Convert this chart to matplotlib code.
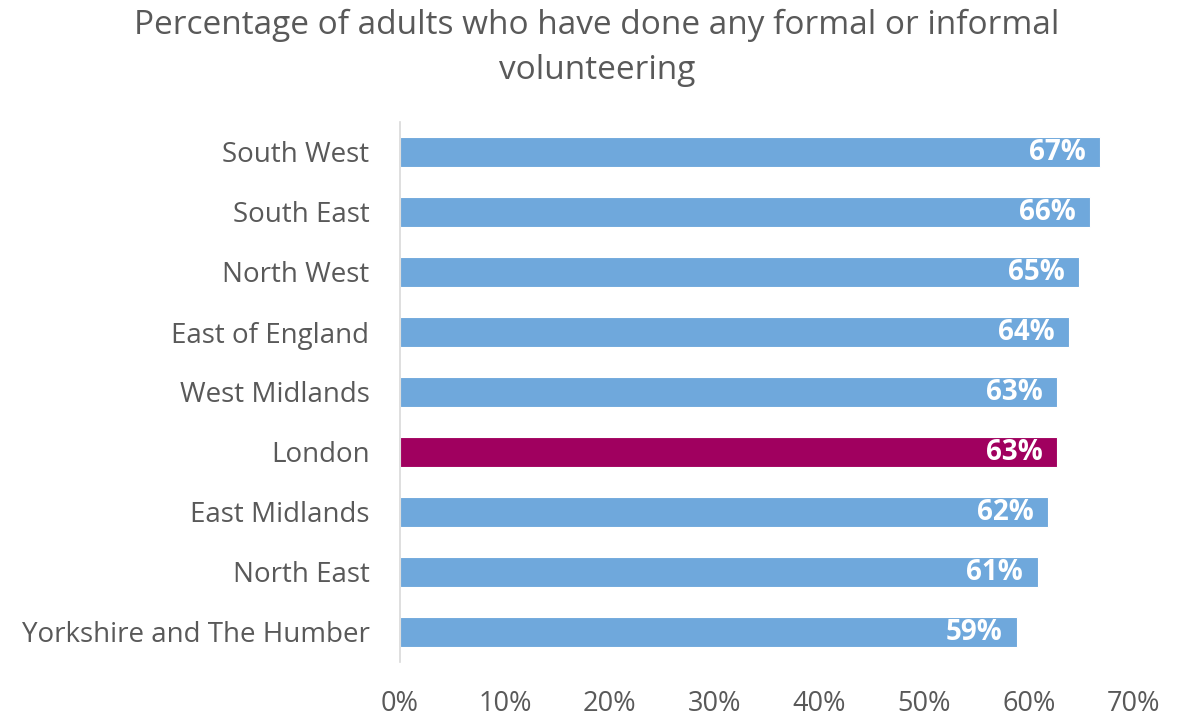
import matplotlib
matplotlib.use("Agg")
import matplotlib.pyplot as plt

# --- DATA ---
regions = ["South West", "South East", "North West", "East of England",
           "West Midlands", "London", "East Midlands", "North East",
           "Yorkshire and The Humber"]
values = [66.8, 65.8, 64.8, 63.8, 62.7, 62.7, 61.8, 60.8, 58.8]
labels = ["67%", "66%", "65%", "64%", "63%", "63%", "62%", "61%", "59%"]
highlight = "London"

# --- STYLE ---
BLUE = "#6FA8DC"
PLUM = "#A0005F"
GREY = "#595959"
plt.rcParams['font.family'] = ['Open Sans', 'DejaVu Sans']

fig = plt.figure(figsize=(11.85, 7.18), dpi=100)
ax = fig.add_axes([400 / 1185, 1 - 662 / 718, 734 / 1185, 540 / 718])

ypos = list(range(len(regions)))
colors = [PLUM if r == highlight else BLUE for r in regions]
ax.barh(ypos, values, height=0.5, color=colors, edgecolor="white", linewidth=0.8)

for y, v, lab in zip(ypos, values, labels):
    ax.text(v - 1.4, y, lab, ha="right", va="center", color="white",
            fontsize=20, fontweight="bold")

ax.set_ylim(len(regions) - 0.5, -0.5)
ax.set_xlim(0, 70)
ax.set_yticks(ypos)
ax.set_yticklabels(regions, fontsize=20, color=GREY)
ax.set_xticks(range(0, 71, 10))
ax.set_xticklabels([f"{t}%" for t in range(0, 71, 10)], fontsize=19.5, color=GREY)
ax.tick_params(axis="both", length=0)
ax.tick_params(axis="y", pad=22)
ax.tick_params(axis="x", pad=20)

for side in ["top", "right", "bottom"]:
    ax.spines[side].set_visible(False)
ax.spines["left"].set_color("#D9D9D9")
ax.spines["left"].set_linewidth(1.2)

fig.text(597 / 1185, 1 - 48 / 718,
         "Percentage of adults who have done any formal or informal\nvolunteering",
         ha="center", va="center", fontsize=24, color=GREY, linespacing=1.45)

fig.savefig("out.png", dpi=100)
